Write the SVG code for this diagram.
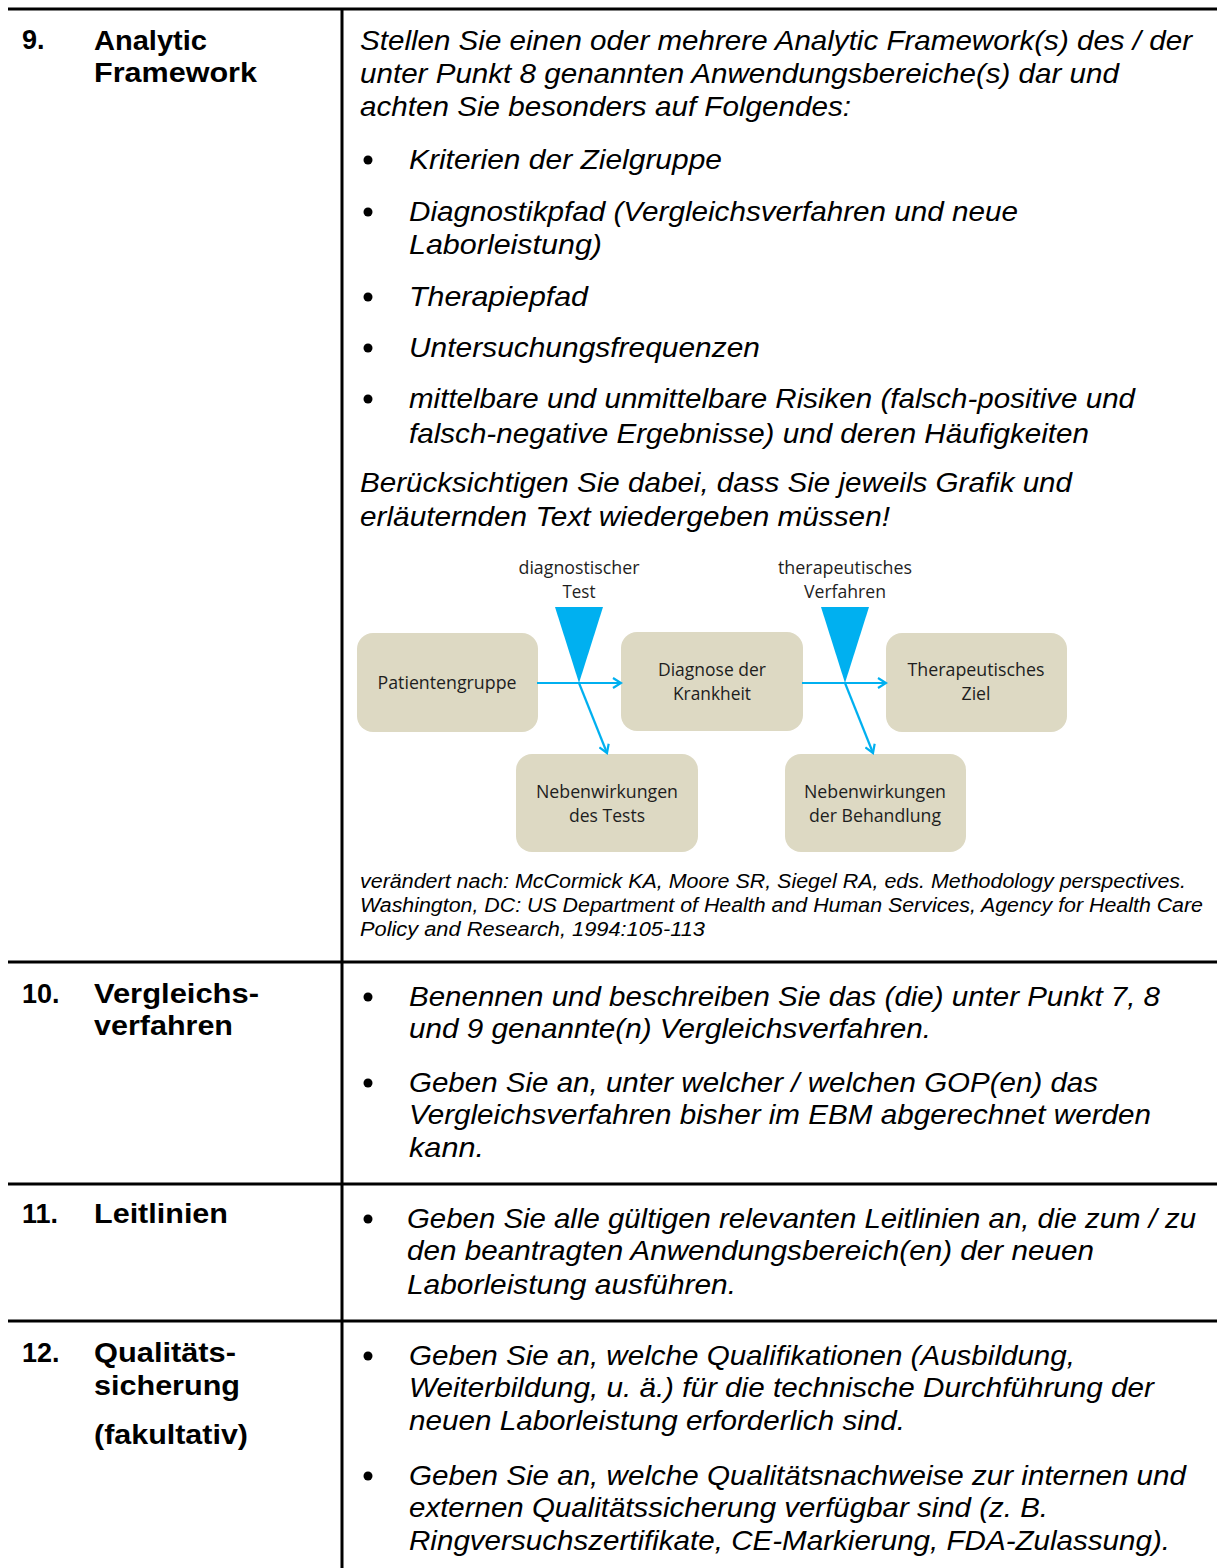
<svg xmlns="http://www.w3.org/2000/svg" width="1217" height="1568" viewBox="0 0 1217 1568">
<style>
.rule{stroke:#000;stroke-width:3;fill:none}
.hd{font-family:"Liberation Sans",Arial,sans-serif;font-weight:bold;font-size:27px;fill:#000}
.it{font-family:"Liberation Sans",Arial,sans-serif;font-style:italic;font-size:28px;fill:#000}
.cit{font-family:"Liberation Sans",Arial,sans-serif;font-style:italic;font-size:20px;fill:#000}
.dg{font-family:"Open Sans","Noto Sans",sans-serif;font-size:18px;fill:#1e1e1e;text-anchor:middle}
.box{fill:#ddd9c3}
.tri{fill:#00b0f0}
.con{stroke:#00b0f0;stroke-width:2.2;fill:none;marker-end:url(#ah)}
</style>
<defs>
<marker id="ah" markerWidth="12" markerHeight="12" refX="10" refY="6" orient="auto" markerUnits="userSpaceOnUse">
<path d="M2,1 L10,6 L2,11" fill="none" stroke="#00b0f0" stroke-width="2.2"/>
</marker>
</defs>
<rect width="1217" height="1568" fill="#fff"/>
<g id="table">
<line class="rule" x1="8" y1="9" x2="1217" y2="9"/>
<line class="rule" x1="8" y1="962" x2="1217" y2="962"/>
<line class="rule" x1="8" y1="1184" x2="1217" y2="1184"/>
<line class="rule" x1="8" y1="1321" x2="1217" y2="1321"/>
<line class="rule" x1="342" y1="8" x2="342" y2="1568"/>
</g>
<g id="left-column">
<text class="hd" x="22" y="49">9.</text>
<text class="hd" x="94" y="50" textLength="113" lengthAdjust="spacingAndGlyphs">Analytic</text>
<text class="hd" x="94" y="82" textLength="163" lengthAdjust="spacingAndGlyphs">Framework</text>
<text class="hd" x="22" y="1003">10.</text>
<text class="hd" x="94" y="1003" textLength="165" lengthAdjust="spacingAndGlyphs">Vergleichs-</text>
<text class="hd" x="94" y="1035" textLength="139" lengthAdjust="spacingAndGlyphs">verfahren</text>
<text class="hd" x="22" y="1223">11.</text>
<text class="hd" x="94" y="1223" textLength="134" lengthAdjust="spacingAndGlyphs">Leitlinien</text>
<text class="hd" x="22" y="1362">12.</text>
<text class="hd" x="94" y="1362" textLength="142" lengthAdjust="spacingAndGlyphs">Qualitäts-</text>
<text class="hd" x="94" y="1395" textLength="146" lengthAdjust="spacingAndGlyphs">sicherung</text>
<text class="hd" x="94" y="1444" textLength="154" lengthAdjust="spacingAndGlyphs">(fakultativ)</text>
</g>
<g id="row9-text">
<text class="it" x="360" y="50" textLength="832" lengthAdjust="spacingAndGlyphs">Stellen Sie einen oder mehrere Analytic Framework(s) des / der</text>
<text class="it" x="360" y="83" textLength="759" lengthAdjust="spacingAndGlyphs">unter Punkt 8 genannten Anwendungsbereiche(s) dar und</text>
<text class="it" x="360" y="116" textLength="491" lengthAdjust="spacingAndGlyphs">achten Sie besonders auf Folgendes:</text>
<circle cx="368" cy="160" r="4.5"/>
<text class="it" x="409" y="169" textLength="313" lengthAdjust="spacingAndGlyphs">Kriterien der Zielgruppe</text>
<circle cx="368" cy="212" r="4.5"/>
<text class="it" x="409" y="221" textLength="609" lengthAdjust="spacingAndGlyphs">Diagnostikpfad (Vergleichsverfahren und neue</text>
<text class="it" x="409" y="254" textLength="193" lengthAdjust="spacingAndGlyphs">Laborleistung)</text>
<circle cx="368" cy="297" r="4.5"/>
<text class="it" x="409" y="306" textLength="179" lengthAdjust="spacingAndGlyphs">Therapiepfad</text>
<circle cx="368" cy="348" r="4.5"/>
<text class="it" x="409" y="357" textLength="351" lengthAdjust="spacingAndGlyphs">Untersuchungsfrequenzen</text>
<circle cx="368" cy="399" r="4.5"/>
<text class="it" x="409" y="408" textLength="726" lengthAdjust="spacingAndGlyphs">mittelbare und unmittelbare Risiken (falsch-positive und</text>
<text class="it" x="409" y="443" textLength="680" lengthAdjust="spacingAndGlyphs">falsch-negative Ergebnisse) und deren Häufigkeiten</text>
<text class="it" x="360" y="492" textLength="712" lengthAdjust="spacingAndGlyphs">Berücksichtigen Sie dabei, dass Sie jeweils Grafik und</text>
<text class="it" x="360" y="526" textLength="530" lengthAdjust="spacingAndGlyphs">erläuternden Text wiedergeben müssen!</text>
</g>
<g id="triangle-diagnostic">
<polygon class="tri" points="555,607 603,607 579,683"/>
<text class="dg" x="579" y="574" textLength="121" lengthAdjust="spacingAndGlyphs">diagnostischer</text>
<text class="dg" x="579" y="598" textLength="33" lengthAdjust="spacingAndGlyphs">Test</text>
</g>
<g id="triangle-therapeutic">
<polygon class="tri" points="821,607 869,607 845,683"/>
<text class="dg" x="845" y="574" textLength="134" lengthAdjust="spacingAndGlyphs">therapeutisches</text>
<text class="dg" x="845" y="598" textLength="82" lengthAdjust="spacingAndGlyphs">Verfahren</text>
</g>
<g id="node-patientengruppe">
<rect class="box" x="357" y="633" width="181" height="99" rx="16"/>
<text class="dg" x="447" y="689" textLength="139" lengthAdjust="spacingAndGlyphs">Patientengruppe</text>
</g>
<g id="node-diagnose">
<rect class="box" x="621" y="632" width="182" height="99" rx="16"/>
<text class="dg" x="712" y="676" textLength="108" lengthAdjust="spacingAndGlyphs">Diagnose der</text>
<text class="dg" x="712" y="700" textLength="78" lengthAdjust="spacingAndGlyphs">Krankheit</text>
</g>
<g id="node-ziel">
<rect class="box" x="886" y="633" width="181" height="99" rx="16"/>
<text class="dg" x="976" y="676" textLength="137" lengthAdjust="spacingAndGlyphs">Therapeutisches</text>
<text class="dg" x="976" y="700" textLength="29" lengthAdjust="spacingAndGlyphs">Ziel</text>
</g>
<g id="node-nw-test">
<rect class="box" x="516" y="754" width="182" height="98" rx="16"/>
<text class="dg" x="607" y="798" textLength="142" lengthAdjust="spacingAndGlyphs">Nebenwirkungen</text>
<text class="dg" x="607" y="822" textLength="76" lengthAdjust="spacingAndGlyphs">des Tests</text>
</g>
<g id="node-nw-behandlung">
<rect class="box" x="785" y="754" width="181" height="98" rx="16"/>
<text class="dg" x="875" y="798" textLength="142" lengthAdjust="spacingAndGlyphs">Nebenwirkungen</text>
<text class="dg" x="875" y="822" textLength="132" lengthAdjust="spacingAndGlyphs">der Behandlung</text>
</g>
<g id="connectors">
<line class="con" x1="537" y1="683" x2="621" y2="683"/>
<line class="con" x1="579" y1="683" x2="607" y2="753"/>
<line class="con" x1="802" y1="683" x2="886" y2="683"/>
<line class="con" x1="845" y1="683" x2="873" y2="753"/>
</g>
<g id="citation">
<text class="cit" x="360" y="888" textLength="826" lengthAdjust="spacingAndGlyphs">verändert nach: McCormick KA, Moore SR, Siegel RA, eds. Methodology perspectives.</text>
<text class="cit" x="360" y="912" textLength="843" lengthAdjust="spacingAndGlyphs">Washington, DC: US Department of Health and Human Services, Agency for Health Care</text>
<text class="cit" x="360" y="936" textLength="345" lengthAdjust="spacingAndGlyphs">Policy and Research, 1994:105-113</text>
</g>
<g id="row10-text">
<circle cx="368" cy="997" r="4.5"/>
<text class="it" x="409" y="1006" textLength="751" lengthAdjust="spacingAndGlyphs">Benennen und beschreiben Sie das (die) unter Punkt 7, 8</text>
<text class="it" x="409" y="1038" textLength="522" lengthAdjust="spacingAndGlyphs">und 9 genannte(n) Vergleichsverfahren.</text>
<circle cx="368" cy="1083" r="4.5"/>
<text class="it" x="409" y="1092" textLength="689" lengthAdjust="spacingAndGlyphs">Geben Sie an, unter welcher / welchen GOP(en) das</text>
<text class="it" x="409" y="1124" textLength="742" lengthAdjust="spacingAndGlyphs">Vergleichsverfahren bisher im EBM abgerechnet werden</text>
<text class="it" x="409" y="1157" textLength="75" lengthAdjust="spacingAndGlyphs">kann.</text>
</g>
<g id="row11-text">
<circle cx="368" cy="1219" r="4.5"/>
<text class="it" x="407" y="1228" textLength="789" lengthAdjust="spacingAndGlyphs">Geben Sie alle gültigen relevanten Leitlinien an, die zum / zu</text>
<text class="it" x="407" y="1260" textLength="687" lengthAdjust="spacingAndGlyphs">den beantragten Anwendungsbereich(en) der neuen</text>
<text class="it" x="407" y="1294" textLength="329" lengthAdjust="spacingAndGlyphs">Laborleistung ausführen.</text>
</g>
<g id="row12-text">
<circle cx="368" cy="1356" r="4.5"/>
<text class="it" x="409" y="1365" textLength="666" lengthAdjust="spacingAndGlyphs">Geben Sie an, welche Qualifikationen (Ausbildung,</text>
<text class="it" x="409" y="1397" textLength="745" lengthAdjust="spacingAndGlyphs">Weiterbildung, u. ä.) für die technische Durchführung der</text>
<text class="it" x="409" y="1430" textLength="496" lengthAdjust="spacingAndGlyphs">neuen Laborleistung erforderlich sind.</text>
<circle cx="368" cy="1476" r="4.5"/>
<text class="it" x="409" y="1485" textLength="777" lengthAdjust="spacingAndGlyphs">Geben Sie an, welche Qualitätsnachweise zur internen und</text>
<text class="it" x="409" y="1517" textLength="639" lengthAdjust="spacingAndGlyphs">externen Qualitätssicherung verfügbar sind (z. B.</text>
<text class="it" x="409" y="1550" textLength="761" lengthAdjust="spacingAndGlyphs">Ringversuchszertifikate, CE-Markierung, FDA-Zulassung).</text>
</g>
</svg>
